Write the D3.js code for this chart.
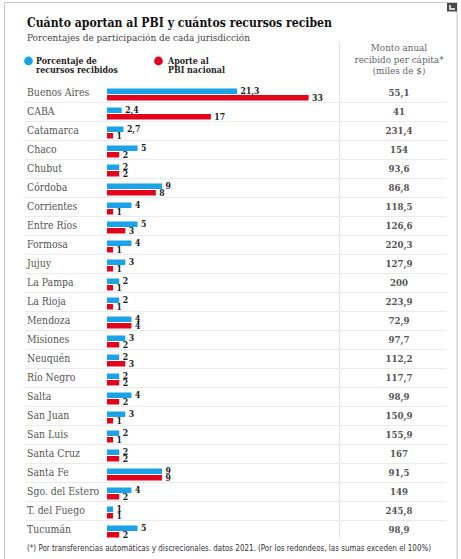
<!DOCTYPE html>
<html>
<head>
<meta charset="utf-8">
<script src="https://cdn.jsdelivr.net/npm/d3@7"></script>
<style>
  body { margin: 0; background: #fff; }
  svg { display: block; }
  .serif { font-family: "DejaVu Serif Condensed", "DejaVu Serif", serif; font-stretch: condensed; }
</style>
</head>
<body>
<script>
const width = 461
const height = 559

const provincias = [
  "Buenos Aires", "CABA", "Catamarca", "Chaco", "Chubut", "Córdoba",
  "Corrientes", "Entre Ríos", "Formosa", "Jujuy", "La Pampa", "La Rioja",
  "Mendoza", "Misiones", "Neuquén", "Río Negro", "Salta", "San Juan",
  "San Luis", "Santa Cruz", "Santa Fe", "Sgo. del Estero", "T. del Fuego", "Tucumán",
]
const recibidos = [21.3, 2.4, 2.7, 5, 2, 9, 4, 5, 4, 3, 2, 2, 4, 3, 2, 2, 4, 3, 2, 2, 9, 4, 1, 5]
const aporte = [33, 17, 1, 2, 2, 8, 1, 3, 1, 1, 1, 1, 4, 2, 3, 2, 2, 1, 1, 2, 9, 2, 1, 2]
const monto = [55.1, 41, 231.4, 154, 93.6, 86.8, 118.5, 126.6, 220.3, 127.9, 200, 223.9,
  72.9, 97.7, 112.2, 117.7, 98.9, 150.9, 155.9, 167, 91.5, 149, 245.8, 98.9]
const series = [
  { key: "recibidos", label: ["Porcentaje de", "recursos recibidos"], color: "#1ba3e9" },
  { key: "aporte", label: ["Aporte al", "PBI nacional"], color: "#e4031d" },
]
const montoHeader = ["Monto anual", "recibido per cápita*", "(miles de $)"]

const rows = provincias.map((p, i) => ({ name: p, recibidos: recibidos[i], aporte: aporte[i], monto: monto[i] }))

const fmt = (v) => String(v).replace(".", ",")

const x = d3.scaleLinear().domain([0, 33]).range([107, 308.6])
const y = d3.scaleBand().domain(provincias).range([83, 83 + provincias.length * 19])
const colX = 399
const divX = 339.5

const svg = d3.select("body").append("svg").attr("width", width).attr("height", height)

// frame + corner icon
svg.append("path")
  .attr("d", `M4.5,${height} V2.5 H457 V${height}`)
  .attr("fill", "none")
  .attr("stroke", "#c8c8c8")
svg.append("rect").attr("x", 447).attr("y", 3).attr("width", 10).attr("height", 8.5).attr("fill", "#4a4a4a")
svg.append("path").attr("d", "M450,5 V9 H455").attr("fill", "none").attr("stroke", "#fff").attr("stroke-width", 1.4)

// titles
svg.append("text")
  .attr("x", 27).attr("y", 27)
  .attr("font-family", "'DejaVu Serif', serif")
  .attr("font-size", 13).attr("font-weight", "bold").attr("fill", "#111")
  .attr("textLength", 305).attr("lengthAdjust", "spacingAndGlyphs")
  .text("Cuánto aportan al PBI y cuántos recursos reciben")

svg.append("text")
  .attr("class", "serif")
  .attr("x", 27).attr("y", 41)
  .attr("font-size", 10).attr("fill", "#444")
  .attr("textLength", 223).attr("lengthAdjust", "spacingAndGlyphs")
  .text("Porcentajes de participación de cada jurisdicción")

// legend
const legend = svg.selectAll(".legend")
  .data(series)
  .enter()
  .append("g")
  .attr("class", "legend")
  .attr("transform", (d, i) => `translate(${i === 0 ? 28.5 : 158.5},61)`)

legend.append("circle").attr("r", 4.4).attr("fill", (d) => d.color)

legend.append("text")
  .attr("class", "serif")
  .attr("x", (d, i) => i === 0 ? 7.5 : 9.5)
  .attr("font-size", 8.8).attr("font-weight", "bold").attr("fill", "#222")
  .selectAll("tspan")
  .data((d) => d.label)
  .enter()
  .append("tspan")
  .attr("x", function () { return this.parentNode.getAttribute("x") })
  .attr("y", (d, i) => 2.5 + i * 9)
  .text((d) => d)

// monto header
svg.append("text")
  .attr("class", "serif")
  .attr("text-anchor", "middle")
  .attr("font-size", 9.8).attr("fill", "#666")
  .selectAll("tspan")
  .data(montoHeader)
  .enter()
  .append("tspan")
  .attr("x", colX)
  .attr("y", (d, i) => 51 + i * 11.6)
  .text((d) => d)

// grid
svg.append("line")
  .attr("x1", divX).attr("x2", divX)
  .attr("y1", 42).attr("y2", 538)
  .attr("stroke", "#e2e2e2")

svg.selectAll(".sep")
  .data(provincias.slice(1))
  .enter()
  .append("line")
  .attr("class", "sep")
  .attr("x1", 25).attr("x2", 447)
  .attr("y1", (d) => Math.round(y(d)) + 0.5)
  .attr("y2", (d) => Math.round(y(d)) + 0.5)
  .attr("stroke", "#ebebeb")

// rows
const row = svg.selectAll(".row")
  .data(rows)
  .enter()
  .append("g")
  .attr("class", "row")
  .attr("transform", (d) => `translate(0,${y(d.name)})`)

row.append("text")
  .attr("class", "serif")
  .attr("x", 27).attr("y", 13.3)
  .attr("font-size", 10.4).attr("fill", "#555")
  .text((d) => d.name)

row.append("text")
  .attr("class", "serif")
  .attr("x", colX).attr("y", 13.3)
  .attr("text-anchor", "middle")
  .attr("font-size", 9.6).attr("font-weight", "bold").attr("fill", "#555")
  .text((d) => fmt(d.monto))

series.forEach((s, k) => {
  row.append("rect")
    .attr("x", x(0))
    .attr("y", k === 0 ? 5.5 : 12)
    .attr("width", (d) => x(d[s.key]) - x(0))
    .attr("height", 5.5)
    .attr("fill", s.color)

  row.append("text")
    .attr("class", "serif")
    .attr("x", (d) => x(d[s.key]) + 3.5)
    .attr("y", k === 0 ? 10.5 : 18)
    .attr("font-size", 8.6).attr("font-weight", "bold").attr("fill", "#1a1a1a")
    .text((d) => fmt(d[s.key]))
})

// footnote
svg.append("text")
  .attr("x", 27).attr("y", 551)
  .attr("font-family", "'DejaVu Sans Condensed', 'DejaVu Sans', sans-serif")
  .attr("font-stretch", "condensed")
  .attr("font-size", 8).attr("fill", "#333")
  .attr("textLength", 404).attr("lengthAdjust", "spacingAndGlyphs")
  .text("(*) Por transferencias automáticas y discrecionales. datos 2021. (Por los redondeos, las sumas exceden el 100%)")
</script>
</body>
</html>
